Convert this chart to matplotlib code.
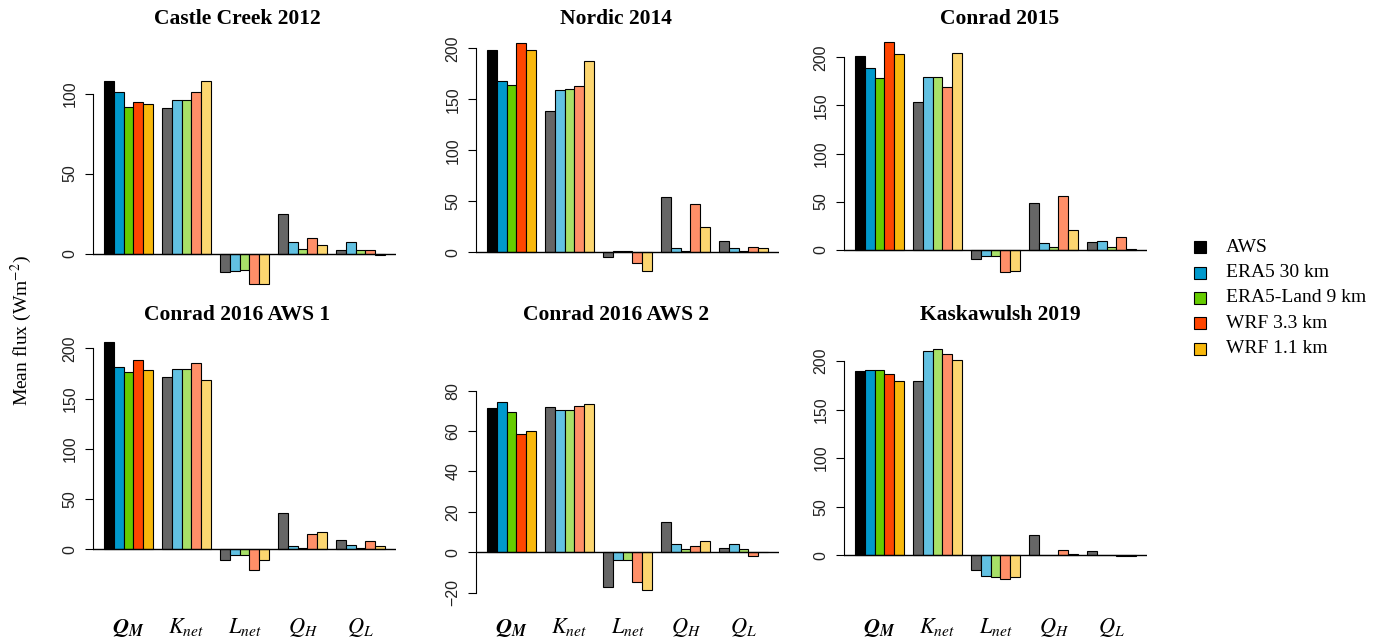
import numpy as np
import matplotlib
matplotlib.use("Agg")
import matplotlib.pyplot as plt
from matplotlib.patches import Rectangle
from matplotlib.transforms import blended_transform_factory


# ============================================================
# DATA  (rows: Q_M, K_net, L_net, Q_H, Q_L ; cols: datasets)
# ============================================================

sources = ["AWS", "ERA5 30 km", "ERA5-Land 9 km", "WRF 3.3 km", "WRF 1.1 km"]
fluxes = [r"$\boldsymbol{Q}_{\boldsymbol{M}}$", r"$K_{net}$", r"$L_{net}$",
          r"$Q_H$", r"$Q_L$"]

sites = ["Castle Creek 2012", "Nordic 2014", "Conrad 2015",
         "Conrad 2016 AWS 1", "Conrad 2016 AWS 2", "Kaskawulsh 2019"]

castle_creek_2012 = [
    [108, 101, 91.5, 95, 93.5],
    [91, 96, 96, 101, 108],
    [-11.4, -10.8, -10.5, -19, -19.2],
    [25, 7.5, 3, 10, 5.5],
    [2.5, 7.5, 2.5, 2, -1],
]
nordic_2014 = [
    [198, 168, 164, 205, 198],
    [139, 159, 160, 163.5, 187.5],
    [-5, 1.5, 1.5, -11, -18],
    [54, 4, 1.5, 47, 25],
    [11, 4, 1.5, 5, 4],
]
conrad_2015 = [
    [201, 189, 178.5, 215.5, 203.5],
    [153.5, 179.5, 179.5, 169.5, 204],
    [-9.5, -7, -7, -23.5, -22],
    [48.5, 7.3, 2.5, 55.5, 20.5],
    [7.7, 8.7, 2.5, 13.2, 0.7],
]
conrad_2016_aws1 = [
    [206.6, 181.4, 176.4, 188.4, 178.7],
    [171.7, 179, 179, 185, 168.5],
    [-10.6, -5.7, -5.7, -21, -10.6],
    [35.8, 3.3, 1.3, 15, 17],
    [9, 4, 1.3, 8, 3.7],
]
conrad_2016_aws2 = [
    [71.6, 74.3, 69.3, 58.4, 60.2],
    [71.8, 70.3, 70.3, 72.3, 73.3],
    [-17.2, -4, -4, -14.9, -18.7],
    [14.9, 4, 1.6, 3.1, 5.4],
    [2.3, 4.1, 1.6, -1.8, 0.3],
]
kaskawulsh_2019 = [
    [189.6, 190.3, 190.6, 186.2, 179.3],
    [179.6, 210.5, 211.9, 206.8, 201.2],
    [-14.8, -21, -22, -24.7, -22.6],
    [20.5, 0.5, 0.3, 5, 1.5],
    [4.4, 0.2, 0.2, -1, -0.5],
]

site_data = [castle_creek_2012, nordic_2014, conrad_2015,
             conrad_2016_aws1, conrad_2016_aws2, kaskawulsh_2019]

yticks = [
    [0, 50, 100],
    [0, 50, 100, 150, 200],
    [0, 50, 100, 150, 200],
    [0, 50, 100, 150, 200],
    [-20, 0, 20, 40, 60, 80],
    [0, 50, 100, 150, 200],
]
ylims = [
    (-25.9, 139.7),
    (-41.9, 218.0),
    (-47.1, 228.4),
    (-50.4, 223.2),
    (-23.6, 112.5),
    (-46.0, 237.1),
]

# strong colours for Q_M, light ones for the other terms
strong = ["#000000", "#0099CC", "#66CC00", "#FF4500", "#F8B80C"]
light = ["#666666", "#62C1E2", "#A8E068", "#FF8F68", "#FCD670"]


# ============================================================
# LAYOUT
# ============================================================

W, H = 1392, 640
fig = plt.figure(figsize=(W / 100, H / 100), dpi=100)
plt.rcParams["mathtext.fontset"] = "stix"

col_left = [93, 476, 844]
col_width = 303
row_top = [30, 325]
row_bottom = [295, 600]
title_x = [237, 616, 1000]
title_y = [19, 315]

serif = "Liberation Serif"
sans = "Liberation Sans"

for k, (name, data) in enumerate(zip(sites, site_data)):
    r, c = divmod(k, 3)
    ax = fig.add_axes([col_left[c] / W, 1 - row_bottom[r] / H,
                       col_width / W, (row_bottom[r] - row_top[r]) / H])
    data = np.array(data)

    for g in range(len(fluxes)):
        cols = strong if g == 0 else light
        x = g * 6 + 1 + np.arange(len(sources))
        ax.bar(x, data[g], width=1.0, align="edge", color=cols,
               edgecolor="black", linewidth=0.8, zorder=2)

    ax.axhline(0, color="black", linewidth=1.0, zorder=3)
    ax.set_xlim(-0.16, 31.16)
    ax.set_ylim(*ylims[k])

    for side in ["top", "right", "bottom"]:
        ax.spines[side].set_visible(False)
    ax.spines["left"].set_bounds(yticks[k][0], yticks[k][-1])
    ax.spines["left"].set_linewidth(0.8)

    ax.set_yticks(yticks[k])
    ax.set_yticklabels([str(t).replace("-", "\u2212") for t in yticks[k]],
                       rotation=90, va="center", fontsize=11.5, family=sans,
                       color="#222222")
    ax.tick_params(axis="y", length=6, width=0.8, pad=5)

    ax.set_xticks([])
    if r == 1:
        trans = blended_transform_factory(ax.transData, fig.transFigure)
        for g, lab in enumerate(fluxes):
            ax.text(g * 6 + 3.5, 1 - 633 / H, lab, transform=trans,
                    ha="center", va="baseline", fontsize=16)

    fig.text(title_x[c] / W, 1 - title_y[r] / H, name, ha="center",
             va="center", fontsize=15.5, fontweight="bold", family=serif)

fig.text(21 / W, 1 - 331 / H, r"Mean flux (Wm$^{-2}$)", rotation=90,
         ha="center", va="center", fontsize=14, family=serif)

# legend drawn by hand on the right
for i, (lab, col) in enumerate(zip(sources, strong)):
    yc = 247.3 + 25.3 * i
    fig.add_artist(Rectangle(((1200 - 6) / W, 1 - (yc + 6) / H), 12 / W, 12 / H,
                             transform=fig.transFigure, facecolor=col,
                             edgecolor="black", linewidth=0.8))
    fig.text(1226 / W, 1 - yc / H, lab, ha="left", va="center",
             fontsize=14, family=serif)

fig.savefig("out.png", dpi=100)
